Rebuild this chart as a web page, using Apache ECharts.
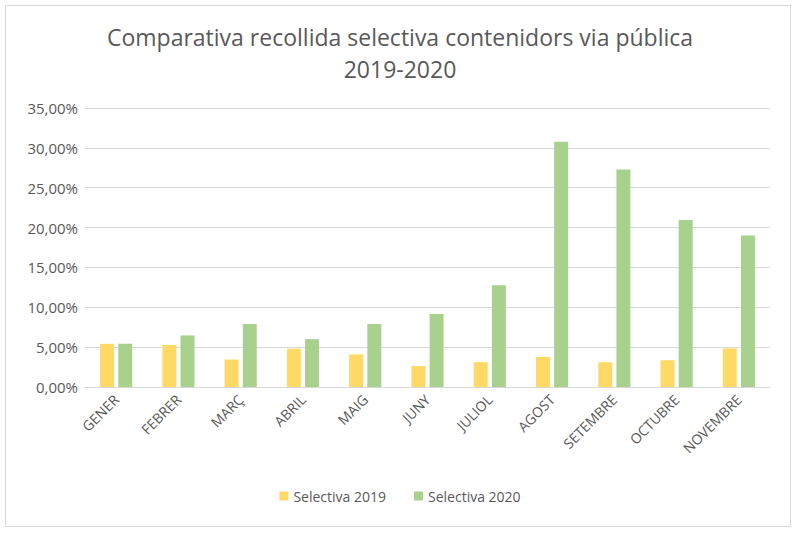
<!DOCTYPE html>
<html>
<head>
<meta charset="utf-8">
<script src="https://cdn.jsdelivr.net/npm/echarts@6/dist/echarts.min.js"></script>
<style>
    html, body { margin: 0; padding: 0; background: #fff; }
    #chart { width: 800px; height: 533px; }
</style>
</head>
<body>
<div id="chart"></div>
<script>
var months = ['GENER', 'FEBRER', 'MARÇ', 'ABRIL', 'MAIG', 'JUNY', 'JULIOL', 'AGOST', 'SETEMBRE', 'OCTUBRE', 'NOVEMBRE'];
var sel2019 = [5.41, 5.28, 3.45, 4.81, 4.09, 2.64, 3.11, 3.78, 3.11, 3.36, 4.84];
var sel2020 = [5.41, 6.47, 7.91, 6.00, 7.91, 9.15, 12.77, 30.78, 27.29, 20.96, 19.02];
var seriesNames = ['Selectiva 2019', 'Selectiva 2020'];

var chart = echarts.init(document.getElementById('chart'), null, {renderer: 'svg'});

function pct(v) {
    return v.toFixed(2).replace('.', ',') + '%';
}

var option = {
    backgroundColor: '#fff',
    title: {
        text: 'Comparativa recollida selectiva contenidors via pública\n2019-2020',
        left: 'center',
        top: 16,
        textStyle: {
            fontFamily: 'Open Sans',
            fontSize: 23,
            fontWeight: 'normal',
            color: '#595959',
            lineHeight: 32
        }
    },
    legend: {
        data: seriesNames,
        bottom: 25,
        left: 'center',
        itemWidth: 9,
        itemHeight: 9,
        itemGap: 28,
        icon: 'rect',
        textStyle: {
            fontFamily: 'Open Sans',
            fontSize: 14,
            color: '#595959'
        }
    },
    grid: {
        left: 85,
        right: 30,
        top: 108,
        bottom: 146
    },
    xAxis: {
        type: 'category',
        data: months,
        axisLine: {lineStyle: {color: '#d9d9d9', width: 1}},
        axisTick: {show: false},
        axisLabel: {
            rotate: 45,
            interval: 0,
            margin: 10,
            fontFamily: 'Open Sans',
            fontSize: 14,
            color: '#595959'
        }
    },
    yAxis: {
        type: 'value',
        min: 0,
        max: 35,
        interval: 5,
        axisLine: {show: false},
        axisTick: {show: false},
        splitLine: {lineStyle: {color: '#d9d9d9', width: 1}},
        axisLabel: {
            formatter: pct,
            margin: 7,
            fontFamily: 'Open Sans',
            fontSize: 15,
            color: '#595959'
        }
    },
    series: [
        {
            name: seriesNames[0],
            type: 'bar',
            data: sel2019,
            barWidth: 14,
            barGap: '30%',
            itemStyle: {color: '#ffd966'}
        },
        {
            name: seriesNames[1],
            type: 'bar',
            data: sel2020,
            barWidth: 14,
            barGap: '30%',
            itemStyle: {color: '#a9d18e'}
        }
    ],
    graphic: [{
        type: 'rect',
        shape: {x: 5.5, y: 5.5, width: 785, height: 521},
        style: {fill: 'none', stroke: '#d9d9d9', lineWidth: 1},
        silent: true
    }]
};

if (option && typeof option === "object") {
    chart.setOption(option, true);
}
</script>
</body>
</html>
